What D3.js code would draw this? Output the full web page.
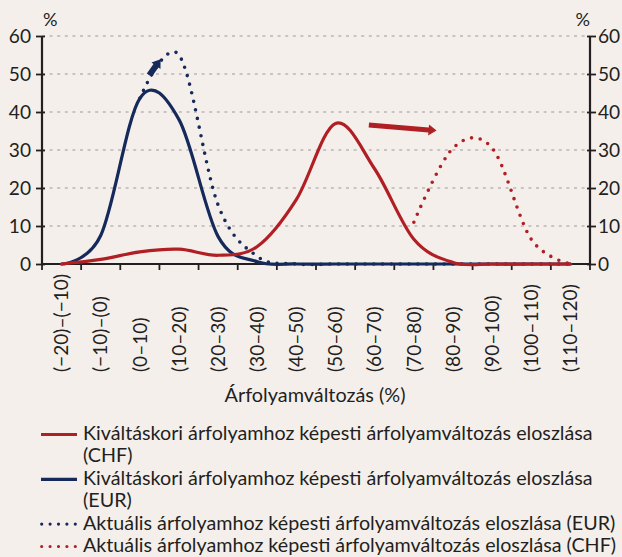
<!DOCTYPE html>
<html>
<head>
<meta charset="utf-8">
<script src="https://cdn.jsdelivr.net/npm/d3@7"></script>
<style>
  body { margin: 0; background: #f5efec; }
  svg { display: block; font-family: Lato, 'Open Sans', sans-serif; }
</style>
</head>
<body>
<div id="chart"></div>
<script>
// categories on the x axis (rate change bands, %)
var categories = ['(−20)–(−10)', '(−10)–(0)', '(0–10)', '(10–20)', '(20–30)', '(30–40)', '(40–50)',
  '(50–60)', '(60–70)', '(70–80)', '(80–90)', '(90–100)', '(100–110)', '(110–120)'];

// distributions, % (null = not drawn)
var chfInitial = [0, 1.2, 3.2, 3.9, 2.3, 4.6, 17, 37, 25, 6.5, 0.4, 0, 0, 0];
var eurInitial = [0, 7.5, 43.6, 38, 7.2, 0.6, 0, 0, 0, 0, 0, 0, 0, 0];
var eurCurrent = [null, null, 43.6, 55, 15.5, 2, 0, 0, 0, 0, 0, 0, 0, 0];
var chfCurrent = [null, null, null, null, null, null, null, null, null, 11, 30.5, 30.5, 6.5, 0];

var yTicks = [0, 10, 20, 30, 40, 50, 60];

var legendLabels = [
  ['Kiváltáskori árfolyamhoz képesti árfolyamváltozás eloszlása', '(CHF)'],
  ['Kiváltáskori árfolyamhoz képesti árfolyamváltozás eloszlása', '(EUR)'],
  ['Aktuális árfolyamhoz képesti árfolyamváltozás eloszlása (EUR)'],
  ['Aktuális árfolyamhoz képesti árfolyamváltozás eloszlása (CHF)']
];

var red = '#b01f24';
var navy = '#15295a';
var axisColor = '#231f20';
var textColor = '#231f20';

var width = 622, height = 557;
var margin = { top: 36, right: 32, bottom: 293, left: 42 };
var plotW = width - margin.left - margin.right;   // 548
var plotH = height - margin.top - margin.bottom;  // 228

var svg = d3.select('#chart').append('svg')
  .attr('width', width)
  .attr('height', height);

svg.append('rect').attr('width', width).attr('height', height).attr('fill', '#f5efec');

// the reference font is narrower than what we have, so pick a size that gives the same text width
var fitSize = function(str, targetW) {
  var probe = svg.append('text').style('font-size', '20px').text(str);
  var w = probe.node().getComputedTextLength();
  probe.remove();
  return 20 * targetW / w;
};
var labelSize = fitSize('(−20)–(−10)', 98);
var legendSize = fitSize(legendLabels[0][0], 510);
var titleSize = fitSize('Árfolyamváltozás (%)', 181);

var g = svg.append('g')
  .attr('transform', 'translate(' + margin.left + ',' + margin.top + ')');

var x = d3.scaleBand().domain(d3.range(categories.length)).range([0, plotW]);
var y = d3.scaleLinear().domain([0, 60]).range([plotH, 0]);
// center of band i
var xc = function(i) { return x(i) + x.bandwidth() / 2; };
// linear index scale for annotations
var xi = d3.scaleLinear().domain([0, categories.length - 1]).range([xc(0), xc(categories.length - 1)]);

// dashed gridlines
g.selectAll('line.grid')
  .data(yTicks.filter(function(d) { return d > 0; }))
  .enter().append('line')
  .attr('class', 'grid')
  .attr('x1', 0).attr('x2', plotW)
  .attr('y1', function(d) { return y(d); })
  .attr('y2', function(d) { return y(d); })
  .attr('stroke', '#9c9a9a')
  .attr('stroke-width', 1.2)
  .attr('stroke-dasharray', '3,4.6');

// axes
var styleAxis = function(sel) {
  sel.select('.domain').remove();
  sel.selectAll('.tick line').attr('stroke', axisColor).attr('stroke-width', 1.8);
  sel.selectAll('.tick text').attr('fill', textColor).style('font-size', labelSize + 'px').style('font-family', 'Lato, sans-serif');
};

var yLeft = g.append('g')
  .call(d3.axisLeft(y).tickValues(yTicks).tickSize(6).tickPadding(5))
  .call(styleAxis);
yLeft.selectAll('.tick line').attr('x2', -6).attr('x1', 3);

var yRight = g.append('g')
  .attr('transform', 'translate(' + plotW + ',0)')
  .call(d3.axisRight(y).tickValues(yTicks).tickSize(6).tickPadding(2))
  .call(styleAxis);
yRight.selectAll('.tick line').attr('x2', 6).attr('x1', -3);

// x axis ticks sit at band edges
var xEdges = d3.range(categories.length + 1).map(function(i) { return i * x.step(); });
g.selectAll('line.xtick')
  .data(xEdges)
  .enter().append('line')
  .attr('x1', function(d) { return d; }).attr('x2', function(d) { return d; })
  .attr('y1', plotH - 1).attr('y2', plotH + 6)
  .attr('stroke', axisColor).attr('stroke-width', 1.8);

g.append('line').attr('x1', 0).attr('x2', 0).attr('y1', 0).attr('y2', plotH)
  .attr('stroke', axisColor).attr('stroke-width', 2.2);
g.append('line').attr('x1', plotW).attr('x2', plotW).attr('y1', 0).attr('y2', plotH)
  .attr('stroke', axisColor).attr('stroke-width', 2.2);
g.append('line').attr('x1', 0).attr('x2', plotW).attr('y1', plotH).attr('y2', plotH)
  .attr('stroke', axisColor).attr('stroke-width', 2.2);

// rotated category labels
g.selectAll('text.xlab')
  .data(categories)
  .enter().append('text')
  .attr('class', 'xlab')
  .attr('transform', function(d, i) { return 'translate(' + xc(i) + ',' + (plotH + 108) + ') rotate(-90)'; })
  .attr('dy', '0.35em')
  .attr('text-anchor', 'start')
  .attr('fill', textColor)
  .style('font-size', labelSize + 'px')
  .text(function(d) { return d; });

// % units
g.append('text').attr('x', 1).attr('y', -10).attr('fill', textColor).style('font-size', (labelSize - 1) + 'px').text('%');
g.append('text').attr('x', plotW).attr('y', -10).attr('text-anchor', 'end').attr('fill', textColor).style('font-size', (labelSize - 1) + 'px').text('%');

// axis title
g.append('text')
  .attr('x', plotW / 2 - 1).attr('y', plotH + 138)
  .attr('text-anchor', 'middle')
  .attr('fill', textColor)
  .style('font-size', titleSize + 'px')
  .text('Árfolyamváltozás (%)');

// lines
var line = d3.line()
  .defined(function(d) { return d != null; })
  .x(function(d, i) { return xc(i); })
  .y(function(d) { return y(d); })
  .curve(d3.curveCardinal.tension(0));

var series = [
  { values: eurInitial, color: navy, dotted: false },
  { values: eurCurrent, color: navy, dotted: true },
  { values: chfInitial, color: red, dotted: false },
  { values: chfCurrent, color: red, dotted: true }
];

series.forEach(function(s) {
  g.append('path')
    .datum(s.values)
    .attr('d', line)
    .attr('fill', 'none')
    .attr('stroke', s.color)
    .attr('stroke-width', s.dotted ? 3.6 : 3.2)
    .attr('stroke-linecap', 'round')
    .attr('stroke-linejoin', 'round')
    .attr('stroke-dasharray', s.dotted ? '0,8.8' : null);
});

// block arrows (annotation), ends given in data units
var arrow = function(from, to, bodyW, headL, headW, color) {
  var p0 = [xi(from[0]), y(from[1])], p1 = [xi(to[0]), y(to[1])];
  var dx = p1[0] - p0[0], dy = p1[1] - p0[1];
  var len = Math.sqrt(dx * dx + dy * dy);
  var u = [dx / len, dy / len], n = [-u[1], u[0]];
  var b = [p1[0] - u[0] * headL, p1[1] - u[1] * headL];
  var pts = [
    [p0[0] + n[0] * bodyW / 2, p0[1] + n[1] * bodyW / 2],
    [b[0] + n[0] * bodyW / 2, b[1] + n[1] * bodyW / 2],
    [b[0] + n[0] * headW / 2, b[1] + n[1] * headW / 2],
    p1,
    [b[0] - n[0] * headW / 2, b[1] - n[1] * headW / 2],
    [b[0] - n[0] * bodyW / 2, b[1] - n[1] * bodyW / 2],
    [p0[0] - n[0] * bodyW / 2, p0[1] - n[1] * bodyW / 2]
  ];
  g.append('polygon')
    .attr('points', pts.map(function(p) { return p.join(','); }).join(' '))
    .attr('fill', color);
};
arrow([2.24, 49.7], [2.53, 53.9], 6, 8, 11, navy);
arrow([7.85, 36.6], [9.58, 35.1], 5, 8, 11, red);

// legend
var legendTop = 440, lineH = 22.4, row = 0;
var legendItems = [
  { color: red, dotted: false },
  { color: navy, dotted: false },
  { color: navy, dotted: true },
  { color: red, dotted: true }
];
legendItems.forEach(function(item, k) {
  var base = legendTop + row * lineH;
  svg.append('line')
    .attr('x1', item.dotted ? 41.7 : 41).attr('x2', item.dotted ? 75.5 : 77)
    .attr('y1', base - 5.5).attr('y2', base - 5.5)
    .attr('stroke', item.color)
    .attr('stroke-width', 3.2)
    .attr('stroke-linecap', item.dotted ? 'round' : 'butt')
    .attr('stroke-dasharray', item.dotted ? '0,8.4' : null);
  var t = svg.append('text')
    .attr('x', 83).attr('y', base)
    .attr('fill', textColor)
    .style('font-size', legendSize + 'px');
  legendLabels[k].forEach(function(txt, j) {
    t.append('tspan').attr('x', 83).attr('dy', j === 0 ? 0 : lineH).text(txt);
  });
  row += legendLabels[k].length;
});
</script>
</body>
</html>
